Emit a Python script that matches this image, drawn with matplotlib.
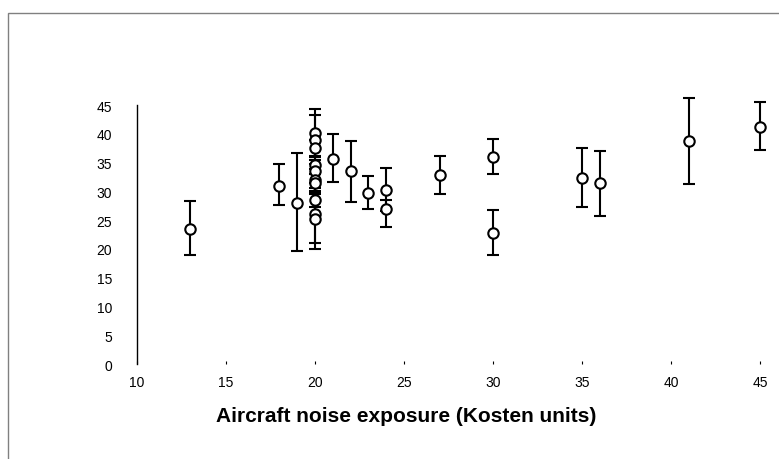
import matplotlib
matplotlib.use("Agg")
import matplotlib.pyplot as plt
from matplotlib.patches import Rectangle

# noise exposure (Kosten units) for each site
exposure = [13, 18, 19,
            20, 20, 20, 20, 20, 20, 20, 20, 20, 20,
            21, 22, 23, 24, 24, 27, 30, 30, 35, 36, 41, 45]
# mean score per site
mean = [23.5, 31.0, 28.0,
        40.2, 39.0, 37.5, 34.5, 33.5, 32.0, 31.5, 28.5, 26.0, 25.2,
        35.7, 33.5, 29.8, 30.3, 27.0, 32.8, 36.0, 22.8, 32.4, 31.4, 38.7, 41.1]
# lower and upper ends of the error bars
low = [19.0, 27.7, 19.6,
       36.2, 34.8, 36.0, 33.0, 31.5, 30.0, 29.8, 27.2, 21.0, 20.0,
       31.7, 28.2, 27.0, 26.5, 23.8, 29.6, 33.0, 19.0, 27.2, 25.7, 31.2, 37.1]
high = [28.3, 34.8, 36.7,
        44.3, 43.2, 39.0, 36.0, 35.5, 33.8, 33.0, 29.8, 30.5, 29.6,
        39.9, 38.8, 32.6, 34.0, 28.5, 36.1, 39.1, 26.7, 37.6, 37.0, 46.3, 45.6]

xticks = [10, 15, 20, 25, 30, 35, 40, 45]
yticks = [0, 5, 10, 15, 20, 25, 30, 35, 40, 45]

plt.rcParams["font.family"] = ["Liberation Sans", "DejaVu Sans"]

fig = plt.figure(figsize=(7.79, 4.6), dpi=100)
ax = fig.add_axes([0.1759, 0.2065, 0.7997, 0.563])

err_lo = [m - l for m, l in zip(mean, low)]
err_hi = [h - m for m, h in zip(mean, high)]
ax.errorbar(exposure, mean, yerr=[err_lo, err_hi], fmt="o", color="black",
            mfc="white", mec="black", ms=7.5, mew=1.5, elinewidth=1.5,
            capsize=4.3, capthick=1.6, clip_on=False, zorder=3)

ax.set_xlim(10, 45)
ax.set_ylim(0, 45)
ax.set_xticks(xticks)
ax.set_yticks(yticks)
ax.tick_params(axis="y", length=0, labelsize=10, pad=18)
ax.tick_params(axis="x", length=2, width=0.8, direction="in", labelsize=10, pad=8)
for s in ["top", "right", "bottom"]:
    ax.spines[s].set_visible(False)
ax.spines["left"].set_linewidth(1.0)
ax.set_xlabel("Aircraft noise exposure (Kosten units)", fontsize=15,
              fontweight="bold", va="center")
ax.xaxis.set_label_coords(0.432, -0.2)

# grey frame around the chart area
fig.patches.append(Rectangle((8 / 779, -0.1), 1.0, 1 - 14 / 460 + 0.1,
                             transform=fig.transFigure, fill=False,
                             edgecolor="#808080", linewidth=1.0))

fig.savefig("out.png", dpi=100)
